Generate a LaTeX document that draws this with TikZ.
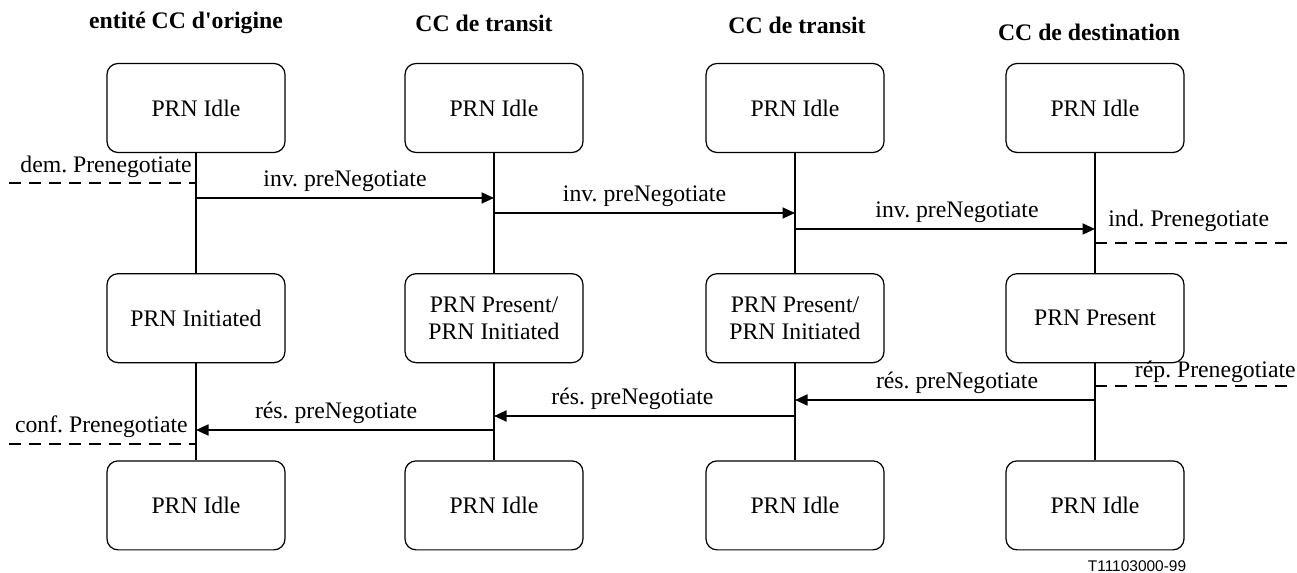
\documentclass[tikz,border=0pt]{standalone}
\usepackage{fontspec}
\setmainfont{Liberation Serif}
\setsansfont{Liberation Sans}
\usetikzlibrary{positioning,arrows.meta}
\frenchspacing

\begin{document}
\begin{tikzpicture}
[x=0.02cm,y=-0.02cm,font=\fontsize{13.5}{15.4}\selectfont,
 state/.style={draw,rounded corners=0.22cm,line width=0.7pt,
   minimum width=3.56cm,minimum height=1.78cm,align=center},
 head/.style={font=\fontsize{13.5}{15.4}\selectfont\bfseries},
 life/.style={line width=0.7pt},
 msg/.style={-{Triangle[length=0.25cm,width=0.22cm]},line width=1pt},
 prim/.style={line width=1pt,dash pattern=on 0.24cm off 0.16cm},
 lbl/.style={inner sep=0pt}]
\useasboundingbox (0,0) rectangle (1297,573);
% entities
\node[head](h1) at (186,23){entité CC d\textquotesingle origine};
\node[head](h2) at (484,23){CC de transit};
\node[head](h3) at (797,25){CC de transit};
\node[head](h4) at (1089,32){CC de destination};
% states
\node[state](a1) at (196,108){PRN Idle};
\node[state, below=2.4cm of a1](b1){PRN Initiated};
\node[state, below=1.94cm of b1](c1){PRN Idle};
\node[state](a2) at (494,108){PRN Idle};
\node[state, below=2.4cm of a2](b2){PRN Present/\\PRN Initiated};
\node[state, below=1.94cm of b2](c2){PRN Idle};
\node[state](a3) at (795,108){PRN Idle};
\node[state, below=2.4cm of a3](b3){PRN Present/\\PRN Initiated};
\node[state, below=1.94cm of b3](c3){PRN Idle};
\node[state](a4) at (1095,108){PRN Idle};
\node[state, below=2.4cm of a4](b4){PRN Present};
\node[state, below=1.94cm of b4](c4){PRN Idle};
\draw[life] (a1) -- (b1); \draw[life] (b1) -- (c1);
\draw[life] (a2) -- (b2); \draw[life] (b2) -- (c2);
\draw[life] (a3) -- (b3); \draw[life] (b3) -- (c3);
\draw[life] (a4) -- (b4); \draw[life] (b4) -- (c4);
% invoke
\coordinate (i1) at (196,198); \coordinate (i2) at (494,198);
\coordinate (j2) at (494,213); \coordinate (j3) at (795,213);
\coordinate (k3) at (795,229); \coordinate (k4) at (1095,229);
\draw[msg] (i1) -- node[above]{inv. preNegotiate} (i2);
\draw[msg] (j2) -- node[above]{inv. preNegotiate} (j3);
\draw[msg] (k3) -- node[above,pos=0.54]{inv. preNegotiate} (k4);
% result
\coordinate (r4) at (1095,400); \coordinate (r3) at (795,400);
\coordinate (s3) at (795,416); \coordinate (s2) at (494,416);
\coordinate (t2) at (494,430); \coordinate (t1) at (196,430);
\draw[msg] (r4) -- node[above,pos=0.46]{rés. preNegotiate} (r3);
\draw[msg] (s3) -- node[above,pos=0.54]{rés. preNegotiate} (s2);
\draw[msg] (t2) -- node[above,pos=0.53]{rés. preNegotiate} (t1);
% primitives
\coordinate (p1) at (9,183); \coordinate (p2) at (196,183);
\coordinate (q1) at (1095,243); \coordinate (q2) at (1287,243);
\coordinate (u1) at (1095,386); \coordinate (u2) at (1287,386);
\coordinate (v1) at (9,444); \coordinate (v2) at (196,444);
\draw[prim] (p1) -- (p2);
\draw[prim] (q1) -- (q2);
\draw[prim] (u1) -- (u2);
\draw[prim] (v1) -- (v2);
\node[lbl,anchor=base east](dem) at (192,173){dem. Prenegotiate};
\node[lbl,anchor=base west](ind) at (1108,227){ind. Prenegotiate};
\node[lbl,anchor=base east](rep) at (1296,378){rép. Prenegotiate};
\node[lbl,anchor=base east](conf) at (188,433){conf. Prenegotiate};
\node[font=\sffamily\fontsize{8.8}{10}\selectfont](ref) at (1137,566){T11103000-99};
\end{tikzpicture}
\end{document}
